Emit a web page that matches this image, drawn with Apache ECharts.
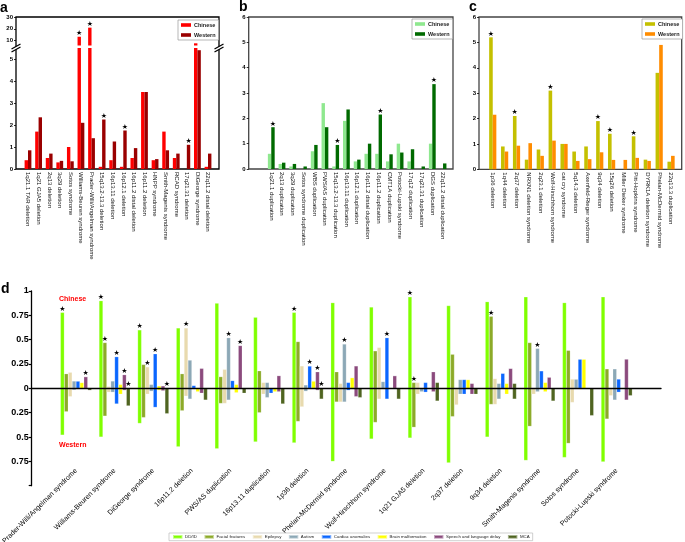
<!DOCTYPE html>
<html><head><meta charset="utf-8">
<script src="https://cdn.jsdelivr.net/npm/echarts@6/dist/echarts.min.js"></script>
<style>html,body{margin:0;padding:0;background:#fff}#c{width:685px;height:542px}</style>
</head><body><div id="c"></div>
<script>
// ---------- Panel a ----------
const catsA = ['1q21.1 TAR deletion','1q21 GJA5 deletion','2q13 deletion','3q29 deletion','Sotos syndrome','Williams-Beuren syndrome','Prader-Willi/Angelman syndrome','15q13.2-13.3 deletion','16p13.11 deletion','16p12.1 deletion','16p11.2 distal deletion','16p11.2 deletion','HNPP syndrome','Smith-Magenis syndrome','RCAD syndrome','17q21.31 deletion','DiGeorge syndrome','22q11.2 distal deletion'];
const chineseA = [0.4,1.7,0.5,0.3,1.0,13.1,21,0.1,0.4,0.1,0.5,3.5,0.4,1.7,0.5,0,7.4,0.1];
const westernA = [0.85,2.35,0.7,0.37,0.35,2.1,1.4,2.25,1.25,1.75,0.95,3.5,0.45,0.85,0.7,1.1,5.4,0.7];
const starA_C = [0,0,0,0,0,1,1,0,0,0,0,0,0,0,0,0,0,0];
const starA_W = [0,0,0,0,0,0,0,1,0,1,0,0,0,0,0,1,0,0];
const ticksA_low = [0,1,2,3,4,5];
const ticksA_up = [10,20,30];

// ---------- Panel b ----------
const catsB = ['1q21.1 duplication','2q13 duplication','3q29 duplication','Sotos syndrome duplication','WBS duplication','PWS/AS duplication','15q13.2-13.3 duplication','16p13.11 duplication','16p12.1 duplication','16p11.2 distal duplication','16p11.2 duplication','CMT1A duplication','Potocki-Lupski syndrome','17q12 duplication','17q21.31 duplication','DGS duplication','22q11.2 distal duplication'];
const chineseB = [0.6,0.2,0.1,0,0.7,2.6,0.1,1.9,0.3,0.6,0.6,0.3,1.0,0.3,0,1.0,0];
const westernB = [1.65,0.25,0.2,0.1,0.95,1.65,0.95,2.35,0.37,1.0,2.15,0.58,0.65,0.78,0.1,3.35,0.22];
const starB_C = [0,0,0,0,0,0,0,0,0,0,0,0,0,0,0,0,0];
const starB_W = [1,0,0,0,0,0,1,0,0,0,1,0,0,0,0,1,0];

// ---------- Panel c ----------
const catsC = ['1p36 deletion','1q44 deletion','2q37 deletion','NRXN1 deletion syndrome','2q23.1 deletion','Wolf-Hirschhorn syndrome','cat cry syndrome','5q14.3 deletion','Axenfeld-Rieger syndrome','9q34 deletion','15q26 deletion','Miller Dieker syndrome','Pitt-Hopkins syndrome','DYRK1A deletion syndrome','Phelan-McDermid syndrome','22q13.3 duplication'];
const chineseC = [5.2,0.9,2.1,0.38,0.78,3.1,1.0,0.7,0.9,1.9,1.4,0,1.3,0.38,3.8,0.3];
const westernC = [2.15,0.7,0.93,1.03,0.53,1.13,1.0,0.33,0.4,0.67,0.37,0.37,0.45,0.33,4.9,0.53];
const starC_C = [1,0,1,0,0,1,0,0,0,1,1,0,1,0,0,0];
const starC_W = [0,0,0,0,0,0,0,0,0,0,0,0,0,0,0,0];

// ---------- Panel d ----------
const catsD = ['Prader-Willi/Angelman syndrome','Williams-Beuren syndrome','DiGeorge syndrome','16p11.2 deletion','PWS/AS duplication','16p13.11 duplication','1p36 deletion','Phelan-McDermid syndrome','Wolf-Hirschhorn syndrome','1q21 GJA5 deletion','2q37 deletion','9q34 deletion','Smith-Magenis syndrome','Sotos syndrome','Potocki-Lupski syndrome'];
const featuresD = ['DD/ID','Facial features','Epilepsy','Autism','Cardiac anomalies','Brain malformation','Speech and language delay','MCA'];
// Chinese (upwards) proportions per feature
const ddidC    = [0.78,0.90,0.60,0.62,0.875,0.73,0.78,0.88,0.835,0.94,0.85,0.89,0.94,0.88,0.94];
const facialC  = [0.15,0.47,0.245,0.15,0.12,0.18,0.48,0.17,0.385,0.06,0.35,0.74,0.47,0.39,0.20];
const epilC    = [0.165,0.02,0.22,0.62,0.195,0.06,0.23,0.05,0.42,0.06,0.0,0.10,0.0,0.095,0.0];
const autismC  = [0.075,0.075,0.04,0.29,0.52,0.06,0.035,0.455,0.07,0.0,0.09,0.05,0.41,0.095,0.20];
const cardC    = [0.075,0.325,0.355,0.03,0.08,0.0,0.23,0.06,0.52,0.06,0.09,0.155,0.18,0.30,0.095];
const brainC   = [0.06,0.04,0.025,0.0,0.04,0.0,0.075,0.11,0.0,0.0,0.09,0.05,0.06,0.30,0.0];
const speechC  = [0.12,0.14,0.025,0.205,0.44,0.13,0.17,0.23,0.13,0.17,0.05,0.205,0.115,0.0,0.30];
const mcaC     = [0,0,0,0,0,0,0,0,0,0.06,0,0.05,0,0,0];
// Western (downwards) proportions per feature
const ddidW    = [0.48,0.50,0.36,0.60,0.62,0.55,0.56,0.75,0.52,0.51,0.765,0.50,0.74,0.71,0.755];
const facialW  = [0.24,0.285,0.30,0.23,0.155,0.25,0.34,0.14,0.35,0.40,0.29,0.165,0.39,0.565,0.315];
const epilW    = [0.085,0.04,0.06,0.08,0.155,0.06,0.19,0.14,0.11,0.06,0.17,0.165,0.06,0.145,0.075];
const autismW  = [0.017,0.04,0.03,0.11,0.12,0.095,0.03,0.14,0.0,0.035,0.06,0.11,0.035,0.0,0.12];
const cardW    = [0.0,0.16,0.195,0.0,0.0,0.05,0.0,0.02,0.11,0.04,0.06,0.0,0.0,0.0,0.04];
const brainW   = [0.0,0.06,0.02,0.035,0.045,0.035,0.0,0.0,0.0,0.0,0.0,0.06,0.035,0.0,0.0];
const speechW  = [0.0,0.02,0.025,0.05,0.0,0.035,0.02,0.085,0.0,0.035,0.06,0.0,0.0,0.0,0.12];
const mcaW     = [0.02,0.18,0.26,0.12,0.05,0.16,0.11,0.095,0.11,0.13,0.06,0.11,0.13,0.28,0.075];
// significance stars (Chinese side)
const starDdid   = [1,1,1,0,0,0,1,0,0,1,0,0,0,0,0];
const starFacial = [0,1,0,0,0,0,0,0,0,1,0,1,0,0,0];
const starEpil   = [0,0,1,1,0,0,0,0,0,0,0,0,0,0,0];
const starAutism = [0,0,0,0,1,0,0,1,0,0,0,0,1,0,0];
const starCard   = [0,1,1,0,0,0,1,0,1,0,0,0,0,0,0];
const starBrain  = [0,0,0,0,0,0,0,0,0,0,0,0,0,0,0];
const starSpeech = [1,1,0,0,1,0,1,0,0,0,0,0,0,0,0];
const starMca    = [0,1,1,0,0,0,1,0,0,0,0,0,0,0,0];
const ticksD = [-1,-0.75,-0.5,-0.25,0,0.25,0.5,0.75,1];

// ---------- layout / style ----------
const FONT = 'Liberation Sans';
const L = {
  aFrame:{left:16,top:17,width:203,height:152},
  aLow:{left:22.7,top:48,width:190.6,height:121},
  aUp:{left:22.7,top:17.3,width:190.6,height:28.2},
  bFrame:{left:248.7,top:17,width:204.3,height:152},
  bData:{left:265.9,top:17,width:182.5,height:152},
  cFrame:{left:479,top:17,width:202.7,height:152.3},
  cData:{left:486.8,top:17,width:190.2,height:152.3},
  dOuter:{left:31.7,top:291,width:629.3,height:194.7},
  dInner:{left:56.7,top:291,width:579.3,height:194.7}
};
const colA = ['#FF0000','#9A0000'];
const colB = ['#8FE88F','#006A00'];
const colC = ['#C4C000','#FF8C00'];
const colD = ['#80FF00','#8CAA28','#E8DAAE','#8CA8B6','#0A66FF','#FFFF00','#8B4A7D','#4F6420'];

function gridOf(r, frame, color){
  return Object.assign({outerBoundsMode:'none', containLabel:false, show:!!frame,
    borderColor: color||'#000', borderWidth: frame?1.3:0, backgroundColor:'transparent'}, r);
}
const grids = [
  gridOf(L.aFrame,true,'#000'), gridOf(L.aLow), gridOf(L.aUp),
  gridOf(L.bFrame,true,'#444'), gridOf(L.bData),
  gridOf(L.cFrame,true,'#444'), gridOf(L.cData),
  gridOf(L.dOuter), gridOf(L.dInner)
];
function hiddenVal(i){ return {gridIndex:i,type:'value',show:false,min:0,max:1,splitLine:{show:false}}; }
function catX(i, cats, show){
  return {gridIndex:i,type:'category',data:cats,show:show!==false,
    axisLine:{show:false},axisTick:{show:false},splitLine:{show:false},
    axisLabel:{interval:0,rotate:-90,margin:3,fontSize:6,fontFamily:FONT,color:'#111'}};
}
function valY(i, min, max, ticks, offset){
  return {gridIndex:i,type:'value',min:min,max:max,offset:offset,
    axisLine:{show:false},splitLine:{show:false},
    axisTick:{show:true,length:2,customValues:ticks,lineStyle:{color:'#000',width:0.8}},
    axisLabel:{customValues:ticks,margin:3,fontSize:6,fontWeight:'bold',fontFamily:FONT,color:'#000'}};
}
const xAxes = [
  hiddenVal(0), catX(1,catsA), catX(2,catsA,false),
  hiddenVal(3), catX(4,catsB),
  hiddenVal(5), catX(6,catsC),
  {gridIndex:7,type:'value',min:0,max:1,z:10,axisLine:{show:true,onZero:true,lineStyle:{color:'#000',width:1.4}},
    axisTick:{show:false},axisLabel:{show:false},splitLine:{show:false}},
  {gridIndex:8,type:'category',data:catsD,axisLine:{show:false},axisTick:{show:false},splitLine:{show:false},
    axisLabel:{interval:0,rotate:45,margin:-16,fontSize:7,fontFamily:FONT,color:'#000'}}
];
const yAxes = [
  hiddenVal(0), valY(1,0,5.5,ticksA_low,L.aLow.left-L.aFrame.left), valY(2,5.5,30,ticksA_up,L.aUp.left-L.aFrame.left),
  hiddenVal(3), valY(4,0,6,[0,1,2,3,4,5,6],L.bData.left-L.bFrame.left),
  hiddenVal(5), valY(6,0,6,[0,1,2,3,4,5,6],L.cData.left-L.cFrame.left),
  {gridIndex:7,type:'value',min:-1,max:1,
    axisLine:{show:true,lineStyle:{color:'#000',width:1.3}},
    axisTick:{show:true,length:3,customValues:ticksD,lineStyle:{color:'#000',width:1.2}},
    axisLabel:{customValues:ticksD,margin:3,fontSize:9,fontWeight:'bold',fontFamily:FONT,color:'#000',
      formatter:v=> v<=-1 ? '' : String(Math.abs(v))},
    splitLine:{show:false}},
  {gridIndex:8,type:'value',min:-1,max:1,show:false,splitLine:{show:false}}
];

function starLabel(stars, test){
  return {show:true,position:'top',distance:0,fontSize:7,color:'#000',fontFamily:'DejaVu Sans',
    formatter:p=> (stars[p.dataIndex] && (!test || test(p.value))) ? '★' : ''};
}
function bar(name, gi, data, color, bw, stars, test, extra){
  return Object.assign({name:name,type:'bar',xAxisIndex:gi,yAxisIndex:gi,data:data,barWidth:bw,barGap:'0%',
    clip:true,itemStyle:{color:color},label:stars?starLabel(stars,test):{show:false},
    emphasis:{disabled:true},animation:false}, extra||{});
}
const series = [
  bar('a|Chinese',1,chineseA,colA[0],3.4,starA_C,v=>v<=5.5),
  bar('a|Western',1,westernA,colA[1],3.4,starA_W,v=>v<=5.5),
  bar('a|Chinese|up',2,chineseA,colA[0],3.4,starA_C,v=>v>5.5),
  bar('a|Western|up',2,westernA,colA[1],3.4,starA_W,v=>v>5.5),
  bar('b|Chinese',4,chineseB,colB[0],3.4,starB_C),
  bar('b|Western',4,westernB,colB[1],3.4,starB_W),
  bar('c|Chinese',6,chineseC,colC[0],3.6,starC_C),
  bar('c|Western',6,westernC,colC[1],3.6,starC_W)
];
const dC = [ddidC,facialC,epilC,autismC,cardC,brainC,speechC,mcaC];
const dW = [ddidW,facialW,epilW,autismW,cardW,brainW,speechW,mcaW];
const dS = [starDdid,starFacial,starEpil,starAutism,starCard,starBrain,starSpeech,starMca];
featuresD.forEach((f,k)=>{
  const st = {stack:'d'+k, itemStyle:{color:colD[k],borderColor:'rgba(255,255,255,0.5)',borderWidth:0.4}};
  series.push(bar('d|'+f,8,dC[k],colD[k],3.9,dS[k],null,st));
  series.push(bar('d|'+f+'|W',8,dW[k].map(v=>-v),colD[k],3.9,null,null,
    {stack:'d'+k, itemStyle:{color:colD[k],borderColor:'rgba(255,255,255,0.5)',borderWidth:0.4}}));
});

function legendBox(left, top, names, orient, opts){
  return Object.assign({show:true,left:left,top:top,orient:orient,data:names,icon:'rect',
    selectedMode:false,itemWidth:10,itemHeight:3.6,itemGap:4,padding:[2,3],
    borderColor:'#999',borderWidth:0.7,backgroundColor:'#fff',
    formatter:n=>n.split('|')[1],
    textStyle:{fontSize:5.5,fontWeight:'bold',fontFamily:FONT,color:'#222',padding:[0,0,0,-2]}}, opts||{});
}
const legends = [
  legendBox(178,20,['a|Chinese','a|Western'],'vertical'),
  legendBox(412,19,['b|Chinese','b|Western'],'vertical'),
  legendBox(642,19,['c|Chinese','c|Western'],'vertical'),
  legendBox(169,533,featuresD.map(f=>'d|'+f),'horizontal',
    {itemWidth:9.5,itemHeight:3.7,itemGap:6.5,padding:[1,3],borderColor:'#bbb',
     textStyle:{fontSize:4.4,fontFamily:FONT,color:'#222',padding:[0,0,0,-2.5]}})
];

function breakMark(x, y){
  return {type:'group',x:x,y:y,z:100,children:[
    {type:'polygon',shape:{points:[[-4.5,0.5],[4.5,-4.5],[4.5,-1.5],[-4.5,3.5]]},style:{fill:'#fff'}},
    {type:'line',shape:{x1:-4.5,y1:0.5,x2:4.5,y2:-4.5},style:{stroke:'#000',lineWidth:1.3}},
    {type:'line',shape:{x1:-4.5,y1:3.5,x2:4.5,y2:-1.5},style:{stroke:'#000',lineWidth:1.3}}
  ]};
}
function txt(x,y,t,size,color,weight){
  return {type:'text',x:x,y:y,z:100,style:{text:t,fontSize:size,fontWeight:weight||'bold',fontFamily:FONT,fill:color||'#000'}};
}
const graphics = [
  txt(0,1,'a',14), txt(239,0,'b',14), txt(469,0,'c',14), txt(1,282,'d',14),
  txt(59,296,'Chinese',7,'#FF0000'), txt(59,442,'Western',7,'#FF0000'),
  breakMark(L.aFrame.left, 48.5), breakMark(L.aFrame.left+L.aFrame.width, 48.5)
];

const chart = echarts.init(document.getElementById('c'), null, {renderer:'canvas'});
chart.setOption({
  animation:false,
  backgroundColor:'#fff',
  textStyle:{fontFamily:FONT},
  grid:grids, xAxis:xAxes, yAxis:yAxes, series:series, legend:legends,
  graphic:graphics, tooltip:{show:false}
});
</script></body></html>
